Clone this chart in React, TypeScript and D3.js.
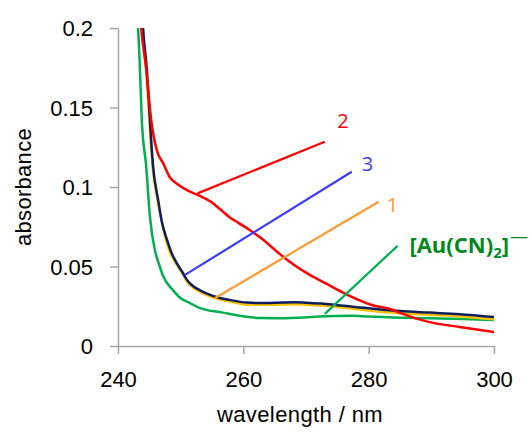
import React, { useEffect, useRef } from 'react';
import { select, scaleLinear, axisLeft, axisBottom, line, curveMonotoneX } from 'd3';

// wavelength (nm) / absorbance
const wlAu = [242.9, 243.2, 243.5, 243.8, 244.5, 245.1, 245.9, 246.5, 247.2, 248.8, 250.0, 251.5, 253.0, 256.7, 262.6, 266.0, 269.8, 272.0, 277.3, 280.0, 283.7, 289.7, 295.0, 300.0];
const absAu = [0.215, 0.2, 0.174, 0.142, 0.113, 0.081, 0.06, 0.052, 0.044, 0.035, 0.03, 0.027, 0.024, 0.021, 0.0176, 0.0175, 0.018, 0.0185, 0.019, 0.0185, 0.018, 0.0175, 0.017, 0.0164];

const wl1 = [243.7, 243.9, 244.5, 245.0, 245.3, 245.5, 246.3, 247.0, 247.7, 248.5, 249.4, 250.4, 251.0, 252.0, 253.1, 254.2, 256.0, 257.8, 260.5, 262.6, 265.0, 268.2, 270.0, 272.5, 275.0, 277.8, 281.8, 285.0, 289.7, 294.5, 300.0];
const abs1 = [0.215, 0.2, 0.174, 0.142, 0.123, 0.113, 0.092, 0.078, 0.066, 0.057, 0.051, 0.045, 0.0406, 0.0368, 0.034, 0.032, 0.0295, 0.028, 0.026, 0.0259, 0.026, 0.0262, 0.026, 0.0255, 0.0245, 0.0232, 0.0216, 0.0206, 0.0196, 0.0186, 0.0168];

const wl3 = [243.8, 244.0, 244.6, 245.1, 245.4, 245.6, 246.4, 247.0, 247.8, 248.5, 249.4, 250.4, 251.0, 252.0, 253.1, 254.2, 256.0, 257.8, 260.5, 262.6, 265.0, 268.2, 270.0, 272.5, 275.0, 277.8, 281.8, 285.0, 289.7, 294.5, 300.0];
const abs3 = [0.215, 0.2, 0.174, 0.142, 0.123, 0.113, 0.092, 0.078, 0.067, 0.059, 0.052, 0.0456, 0.0416, 0.0376, 0.035, 0.033, 0.0305, 0.029, 0.0273, 0.027, 0.0272, 0.0275, 0.0272, 0.0267, 0.0257, 0.0246, 0.023, 0.022, 0.021, 0.02, 0.0182];

const wl2 = [243.4, 243.7, 244.5, 245.3, 246.2, 247.2, 248.3, 249.4, 251.0, 252.7, 254.7, 256.3, 257.8, 259.4, 261.0, 262.6, 266.6, 269.8, 273.0, 276.7, 280.5, 283.7, 285.0, 289.7, 294.5, 300.0];
const abs2 = [0.215, 0.2, 0.174, 0.142, 0.123, 0.115, 0.106, 0.102, 0.098, 0.095, 0.091, 0.086, 0.081, 0.077, 0.073, 0.0685, 0.0554, 0.0466, 0.0397, 0.032, 0.0258, 0.023, 0.0208, 0.015, 0.012, 0.0088];

const xTicks = [240, 260, 280, 300];
const yTicks = [0, 0.05, 0.1, 0.15, 0.2];
const yTickLabels = ['0', '0.05', '0.1', '0.15', '0.2'];

// annotation pointers: [fromWl, fromAbs, toWl, toAbs]
const pointer2 = [252.7, 0.096, 273.0, 0.1285];
const pointer3 = [250.7, 0.0447, 277.3, 0.1096];
const pointer1 = [255.5, 0.0302, 281.6, 0.0907];
const pointerAu = [273.0, 0.0202, 284.6, 0.063];

export default function App() {
  const svgRef = useRef<SVGSVGElement>(null);

  useEffect(() => {
    const width = 532;
    const height = 435;
    const svg = select(svgRef.current);
    svg.selectAll('*').remove();
    svg.attr('width', width).attr('height', height);

    const x = scaleLinear().domain([240, 300]).range([118, 494]);
    const y = scaleLinear().domain([0, 0.2]).range([346, 28]);

    svg.append('defs').append('clipPath').attr('id', 'plot')
      .append('rect').attr('x', 118).attr('y', 28).attr('width', 376).attr('height', 318);

    const axisColor = '#a6a6a6';
    const font = '"Liberation Sans", Arial, sans-serif';

    const yAxis = axisLeft(y).tickValues(yTicks).tickSize(8).tickSizeOuter(0)
      .tickFormat((d, i) => yTickLabels[i]);
    const gy = svg.append('g').attr('transform', 'translate(118,0)').call(yAxis);
    gy.select('.domain').attr('stroke', axisColor).attr('stroke-width', 1.5);
    gy.selectAll('.tick line').attr('stroke', axisColor).attr('stroke-width', 1.5);
    gy.selectAll('.tick text').attr('x', -25).attr('font-family', font).attr('font-size', 22)
      .attr('fill', '#000').attr('dy', '0.36em');

    const xAxis = axisBottom(x).tickValues(xTicks).tickSize(8).tickSizeOuter(0);
    const gx = svg.append('g').attr('transform', 'translate(0,346)').call(xAxis);
    gx.select('.domain').attr('stroke', axisColor).attr('stroke-width', 1.5);
    gx.selectAll('.tick line').attr('stroke', axisColor).attr('stroke-width', 1.5);
    gx.selectAll('.tick text').attr('y', 41).attr('dy', 0).attr('font-family', font).attr('font-size', 22)
      .attr('fill', '#000');

    svg.append('text').attr('x', 300).attr('y', 422).attr('text-anchor', 'middle')
      .attr('font-family', font).attr('font-size', 22).attr('letter-spacing', 0.4)
      .text('wavelength / nm');
    svg.append('text').attr('transform', 'translate(31,187) rotate(-90)').attr('text-anchor', 'middle')
      .attr('font-family', font).attr('font-size', 22).attr('letter-spacing', 0.3)
      .text('absorbance');

    const plot = svg.append('g').attr('clip-path', 'url(#plot)');
    const series: [number[], number[], string][] = [
      [wlAu, absAu, '#00b050'],
      [wl1, abs1, '#ffc000'],
      [wl3, abs3, '#0d1f5c'],
      [wl2, abs2, '#ff0000'],
    ];
    series.forEach(([wl, ab, color]) => {
      const pts = wl.map((w, i) => [w, ab[i]] as [number, number]);
      const gen = line<[number, number]>().x(d => x(d[0])).y(d => y(d[1])).curve(curveMonotoneX);
      plot.append('path').attr('d', gen(pts)).attr('fill', 'none').attr('stroke', color)
        .attr('stroke-width', 2.5).attr('stroke-linejoin', 'round');
    });

    const pointers: [number[], string][] = [
      [pointer2, '#ff0000'],
      [pointer3, '#3b3bff'],
      [pointer1, '#ff9933'],
      [pointerAu, '#00b050'],
    ];
    pointers.forEach(([p, color]) => {
      svg.append('line').attr('x1', x(p[0])).attr('y1', y(p[1])).attr('x2', x(p[2])).attr('y2', y(p[3]))
        .attr('stroke', color).attr('stroke-width', 2.2);
    });

    const labelFont = '"Open Sans", "Noto Sans", sans-serif';
    svg.append('text').attr('x', x(275.9)).attr('y', y(0.1417)).attr('dy', '0.36em').attr('text-anchor', 'middle')
      .attr('font-family', labelFont).attr('font-size', 20).attr('fill', '#ff0000').text('2');
    svg.append('text').attr('x', x(279.8)).attr('y', y(0.1147)).attr('dy', '0.36em').attr('text-anchor', 'middle')
      .attr('font-family', labelFont).attr('font-size', 20).attr('fill', '#3b3bff').text('3');
    svg.append('text').attr('x', x(283.8)).attr('y', y(0.0888)).attr('dy', '0.36em').attr('text-anchor', 'middle')
      .attr('font-family', labelFont).attr('font-size', 20).attr('fill', '#ff9933').text('1');

    const au = svg.append('text').attr('x', x(286.5)).attr('y', y(0.0586))
      .attr('font-family', labelFont).attr('font-size', 22).attr('font-weight', 'bold').attr('fill', '#008a1e');
    au.append('tspan').text('[Au(CN)');
    au.append('tspan').attr('font-size', 15).attr('dy', 5).text('2');
    au.append('tspan').attr('dy', -5).text(']');
    au.append('tspan').attr('font-size', 18).attr('font-weight', 'normal').attr('dx', 1).attr('dy', -10).text('\u2014');
  }, []);

  return (
    <div>
      <svg ref={svgRef} style={{ position: 'absolute', left: 0, top: 0 }} />
    </div>
  );
}
